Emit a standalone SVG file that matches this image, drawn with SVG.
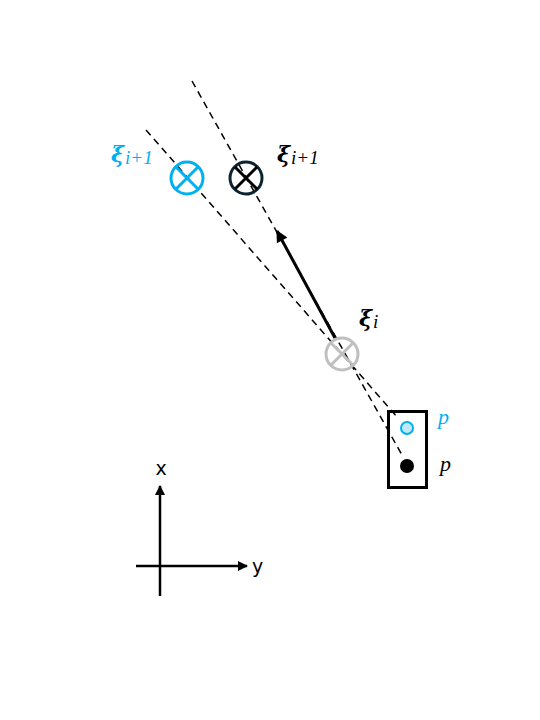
<svg xmlns="http://www.w3.org/2000/svg" width="540" height="720" viewBox="0 0 540 720">
<style>
.dash{stroke:#000;stroke-width:1.5;stroke-dasharray:7,5;fill:none}
.ax{stroke:#000;stroke-width:2.5;fill:none}
.lbl{font-family:"Liberation Serif","DejaVu Serif",serif;font-style:italic}
.xi{font-family:"DejaVu Serif","Liberation Serif",serif;font-weight:bold;font-style:italic;font-size:22px}
.sub{font-family:"Liberation Serif","DejaVu Serif",serif;font-style:italic;font-weight:normal;font-size:19px}
.axl{font-family:"DejaVu Sans","Liberation Sans",sans-serif;font-size:19px}
</style>
<defs>
<marker id="ah" viewBox="0 0 10 10" refX="9" refY="5" markerWidth="4.5" markerHeight="4" orient="auto" markerUnits="strokeWidth">
<path d="M0,0 L10,5 L0,10 z" fill="#000"/>
</marker>
<marker id="ah2" viewBox="0 0 10 10" refX="9" refY="5" markerWidth="4" markerHeight="4" orient="auto" markerUnits="strokeWidth">
<path d="M0,0 L10,5 L0,10 z" fill="#000"/>
</marker>
</defs>
<g id="connectors">
<line class="dash" x1="146" y1="130" x2="398" y2="418"/>
<line class="dash" x1="192" y1="81" x2="402" y2="455"/>
<line x1="335" y1="338" x2="277" y2="231" stroke="#000" stroke-width="3" marker-end="url(#ah)"/>
</g>
<g id="xi-next-blue">
<circle cx="187" cy="178" r="16" fill="none" stroke="#00b0f0" stroke-width="3"/>
<path d="M176,167 L198,189 M198,167 L176,189" stroke="#00b0f0" stroke-width="3"/>
<text x="111" y="162" class="xi" fill="#00b0f0">ξ<tspan class="sub" dx="1" dy="2">i+1</tspan></text>
</g>
<g id="xi-next-black">
<circle cx="246" cy="178" r="16" fill="none" stroke="#0d2330" stroke-width="3"/>
<path d="M235,167 L257,189 M257,167 L235,189" stroke="#000" stroke-width="3"/>
<text x="277" y="162" class="xi" fill="#000">ξ<tspan class="sub" dx="1" dy="2">i+1</tspan></text>
</g>
<g id="xi-current">
<circle cx="342" cy="354" r="16" fill="none" stroke="#bfbfbf" stroke-width="3"/>
<path d="M331,343 L353,365 M353,343 L331,365" stroke="#bfbfbf" stroke-width="3"/>
<text x="359" y="326" class="xi" fill="#000">ξ<tspan class="sub" dx="1" dy="2">i</tspan></text>
</g>
<g id="box">
<rect x="388.5" y="411.5" width="38" height="76" fill="none" stroke="#000" stroke-width="3"/>
</g>
<g id="p-blue">
<circle cx="407" cy="428" r="6" fill="#bfe9fa" stroke="#00b0f0" stroke-width="2"/>
<text x="438" y="424" class="lbl" font-size="22" fill="#00b0f0">p</text>
</g>
<g id="p-black">
<circle cx="407" cy="466" r="7" fill="#000"/>
<text x="440" y="471" class="lbl" font-size="22" fill="#000">p</text>
</g>
<g id="axes">
<line class="ax" x1="160" y1="596" x2="160" y2="486" marker-end="url(#ah2)"/>
<line class="ax" x1="136" y1="566" x2="247" y2="566" marker-end="url(#ah2)"/>
<text x="161" y="475" class="axl" text-anchor="middle">x</text>
<text x="252" y="573" class="axl">y</text>
</g>
</svg>
